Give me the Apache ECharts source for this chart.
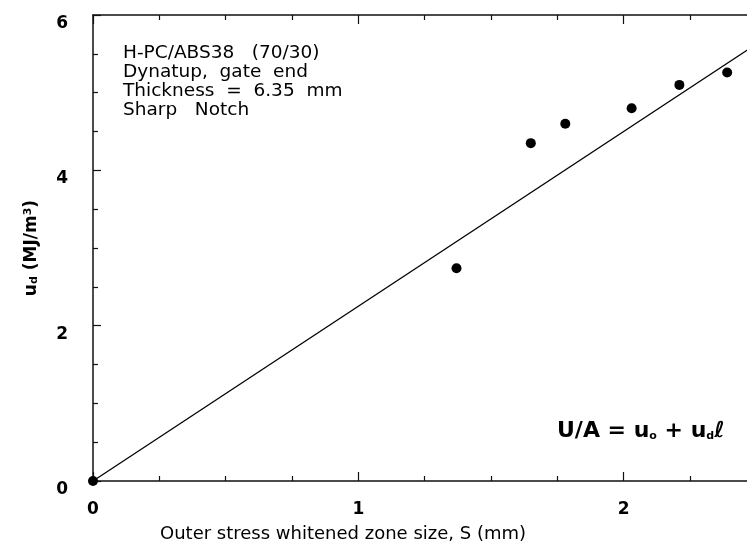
<!DOCTYPE html>
<html>
<head>
<meta charset="utf-8">
<title>u_d vs outer stress whitened zone size</title>
<script src="https://cdn.jsdelivr.net/npm/echarts@6/dist/echarts.min.js"></script>
<style>
  html, body { margin: 0; padding: 0; background: #fff; }
  #chart { width: 747px; height: 546px; }
</style>
</head>
<body>
<div id="chart"></div>
<script>
// Measured points: whitened zone size S (mm) and u_d (MJ/m^3)
const zoneSize = [0, 1.37, 1.65, 1.78, 2.03, 2.21, 2.39];
const energyUd = [0, 2.74, 4.35, 4.60, 4.80, 5.10, 5.26];

// Straight-line fit through the origin
const fitX = [0, 2.6];
const fitY = [0, 5.85];

// Tick labels shown on the axes
const xTicks = [0, 1, 2];
const yTicks = [0, 2, 4, 6];

const noteLines = [
  'H-PC/ABS38   (70/30)',
  'Dynatup,  gate  end',
  'Thickness  =  6.35  mm',
  'Sharp   Notch'
];

const FONT = '"DejaVu Sans", "Liberation Sans", Arial, sans-serif';

const chart = echarts.init(document.getElementById('chart'), null, { renderer: 'canvas' });

const axisLine = { show: true, lineStyle: { color: '#111', width: 1.5 } };
const tickStyle = { color: '#111', width: 1.2 };

const xBase = {
  type: 'value',
  min: 0,
  max: 3,
  interval: 1,
  axisLine: axisLine,
  axisTick: { show: true, inside: true, length: 9, lineStyle: tickStyle },
  minorTick: { show: true, splitNumber: 4, length: 5, lineStyle: tickStyle },
  splitLine: { show: false },
  minorSplitLine: { show: false }
};

chart.setOption({
  animation: false,
  backgroundColor: '#fff',
  grid: { left: 93, top: 15, width: 796, bottom: 65, outerBoundsMode: 'none', containLabel: false },
  xAxis: [
    Object.assign({}, xBase, {
      position: 'bottom',
      axisLabel: {
        show: true,
        color: '#000',
        fontFamily: FONT,
        fontWeight: 'bold',
        fontSize: 17,
        margin: 20,
        formatter: v => (xTicks.indexOf(v) >= 0 ? String(v) : '')
      },
      name: 'Outer stress whitened zone size, S (mm)',
      nameLocation: 'middle',
      nameGap: 44,
      nameTextStyle: {
        color: '#000',
        fontFamily: FONT,
        fontSize: 18,
        padding: [0, 296, 0, 0]
      }
    }),
    Object.assign({}, xBase, {
      position: 'top',
      axisLabel: { show: false }
    })
  ],
  yAxis: {
    type: 'value',
    min: 0,
    max: 6,
    interval: 2,
    axisLine: axisLine,
    axisTick: { show: true, inside: true, length: 8, lineStyle: tickStyle },
    minorTick: { show: true, splitNumber: 4, length: 5, lineStyle: tickStyle },
    splitLine: { show: false },
    axisLabel: {
      color: '#000',
      fontFamily: FONT,
      fontWeight: 'bold',
      fontSize: 17,
      margin: 25,
      verticalAlign: 'top',
      formatter: v => (yTicks.indexOf(v) >= 0 ? String(v) : '')
    },
    name: 'u{sub|d} (MJ/m{sup|3})',
    nameLocation: 'middle',
    nameRotate: 90,
    nameGap: 53,
    nameTextStyle: {
      color: '#000',
      fontFamily: FONT,
      fontWeight: 'bold',
      fontSize: 17,
      rich: {
        sub: { fontFamily: FONT, fontWeight: 'bold', fontSize: 11, color: '#000', verticalAlign: 'bottom', padding: [6, 0, 0, 0] },
        sup: { fontFamily: FONT, fontWeight: 'bold', fontSize: 11, color: '#000', verticalAlign: 'top', padding: [0, 0, 6, 0] }
      }
    }
  },
  series: [
    {
      type: 'line',
      data: fitX.map((x, i) => [x, fitY[i]]),
      showSymbol: false,
      lineStyle: { color: '#000', width: 1.3 },
      silent: true,
      z: 2
    },
    {
      type: 'scatter',
      data: zoneSize.map((x, i) => [x, energyUd[i]]),
      symbol: 'circle',
      symbolSize: 10,
      itemStyle: { color: '#000', opacity: 1 },
      clip: false,
      z: 3
    }
  ],
  graphic: [
    {
      type: 'text',
      left: 123,
      top: 44,
      style: {
        text: noteLines.join('\n'),
        fill: '#000',
        font: '18.5px ' + FONT,
        lineHeight: 19
      }
    },
    {
      type: 'text',
      left: 557,
      top: 420,
      style: {
        text: 'U/A = u{sub|o} + u{sub|d}{ell|ℓ}',
        fill: '#000',
        font: 'bold 22px ' + FONT,
        rich: {
          sub: { font: 'bold 11px ' + FONT, fill: '#000', verticalAlign: 'bottom', padding: [8, 0, 0, 0] },
          ell: { font: 'bold italic 22px ' + FONT, fill: '#000' }
        }
      }
    }
  ]
});
</script>
</body>
</html>
